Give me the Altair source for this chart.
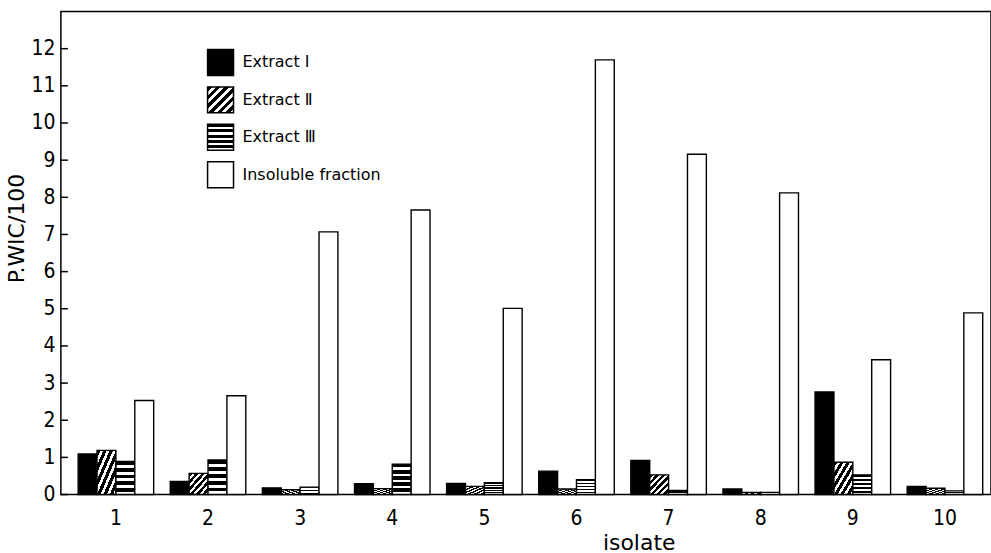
import altair as alt
import pandas as pd

# ---- data ----
isolates = ["1", "2", "3", "4", "5", "6", "7", "8", "9", "10"]
series = ["Extract Ⅰ", "Extract Ⅱ", "Extract Ⅲ", "Insoluble fraction"]
extract_1 = [1.09, 0.35, 0.18, 0.29, 0.30, 0.63, 0.92, 0.15, 2.76, 0.22]
extract_2 = [1.19, 0.57, 0.13, 0.16, 0.22, 0.15, 0.53, 0.06, 0.87, 0.17]
extract_3 = [0.89, 0.93, 0.20, 0.82, 0.32, 0.40, 0.11, 0.06, 0.53, 0.10]
insoluble = [2.53, 2.66, 7.07, 7.66, 5.01, 11.70, 9.16, 8.12, 3.63, 4.89]
y_ticks = [0, 1, 2, 3, 4, 5, 6, 7, 8, 9, 10, 11, 12]

rows = []
for s, vals in zip(series, [extract_1, extract_2, extract_3, insoluble]):
    for iso, v in zip(isolates, vals):
        rows.append({"isolate": iso, "series": s, "value": v})
df = pd.DataFrame(rows)


def stripes(x2, y2, n, white_frac):
    stops = []
    for k in range(n):
        a = k / n
        b = a + (1 - white_frac) / n
        c = (k + 1) / n
        stops += [
            alt.GradientStop(offset=a, color="black"),
            alt.GradientStop(offset=b, color="black"),
            alt.GradientStop(offset=b, color="white"),
            alt.GradientStop(offset=c, color="white"),
        ]
    return alt.LinearGradient(gradient="linear", x1=0, y1=0, x2=x2, y2=y2, stops=stops)


fills = {
    series[0]: "black",
    series[1]: stripes(1, 1, 6, 0.45),
    series[2]: stripes(0, 1, 5, 0.45),
    series[3]: "white",
}

NUM_FONT = "Liberation Sans Narrow, DejaVu Sans Condensed, sans-serif"
TXT_FONT = "DejaVu Sans, sans-serif"

x_enc = alt.X(
    "isolate:N",
    sort=isolates,
    scale=alt.Scale(range=[9, 932], paddingInner=0.18, paddingOuter=0.09),
    axis=alt.Axis(
        title="isolate",
        labelAngle=0,
        ticks=False,
        tickSize=0,
        domain=False,
        labelFont=NUM_FONT,
        labelFontSize=21,
        labelColor="black",
        labelPadding=13,
        titleFont=TXT_FONT,
        titleFontSize=22,
        titleFontWeight="normal",
        titleColor="black",
        titleX=579,
        titleY=55,
        titleBaseline="alphabetic",
    ),
)
xoff_enc = alt.XOffset("series:N", sort=series,
                       scale=alt.Scale(domain=series, paddingInner=0, paddingOuter=0))
y_enc = alt.Y(
    "value:Q",
    scale=alt.Scale(domain=[0, 13], nice=False),
    axis=alt.Axis(
        title="P.WIC/100",
        values=y_ticks,
        ticks=False,
        tickSize=0,
        domain=False,
        grid=False,
        labelFont=NUM_FONT,
        labelFontSize=21,
        labelColor="black",
        labelPadding=6,
        titleFont=TXT_FONT,
        titleFontSize=22,
        titleFontWeight="normal",
        titleColor="black",
        titleAngle=-90,
        titleX=-32,
        titleY=217,
        titleBaseline="bottom",
    ),
)

layers = []
for s in series:
    layers.append(
        alt.Chart(df)
        .transform_filter(alt.datum.series == s)
        .mark_bar(fill=fills[s], stroke="black", strokeWidth=1.4)
        .encode(x=x_enc, xOffset=xoff_enc, y=y_enc)
    )

tick_layer = alt.Chart(pd.DataFrame({"t": y_ticks})).mark_rule(
    color="black", strokeWidth=1.5
).encode(y=alt.Y("t:Q", title="P.WIC/100"), x=alt.value(0), x2=alt.value(7))
layers.append(tick_layer)

for i, s in enumerate(series):
    top = 38 + 37.5 * i
    leg = pd.DataFrame({"label": [s]})
    layers.append(
        alt.Chart(leg)
        .mark_rect(fill=fills[s], stroke="black", strokeWidth=1.5)
        .encode(x=alt.value(147), x2=alt.value(173), y=alt.value(top), y2=alt.value(top + 26))
    )
    layers.append(
        alt.Chart(leg)
        .mark_text(align="left", baseline="middle", font=TXT_FONT, fontSize=16, color="black")
        .encode(x=alt.value(182), y=alt.value(top + 13), text="label:N")
    )

chart = (
    alt.layer(*layers)
    .properties(
        width=932,
        height=484,
        autosize=alt.AutoSizeParams(type="none"),
        padding={"left": 61, "top": 11, "right": 0, "bottom": 58},
        background="white",
    )
    .configure_view(stroke="black", strokeWidth=1.5)
)

chart.save("out.html", embed_options={"renderer": "svg", "actions": False})
